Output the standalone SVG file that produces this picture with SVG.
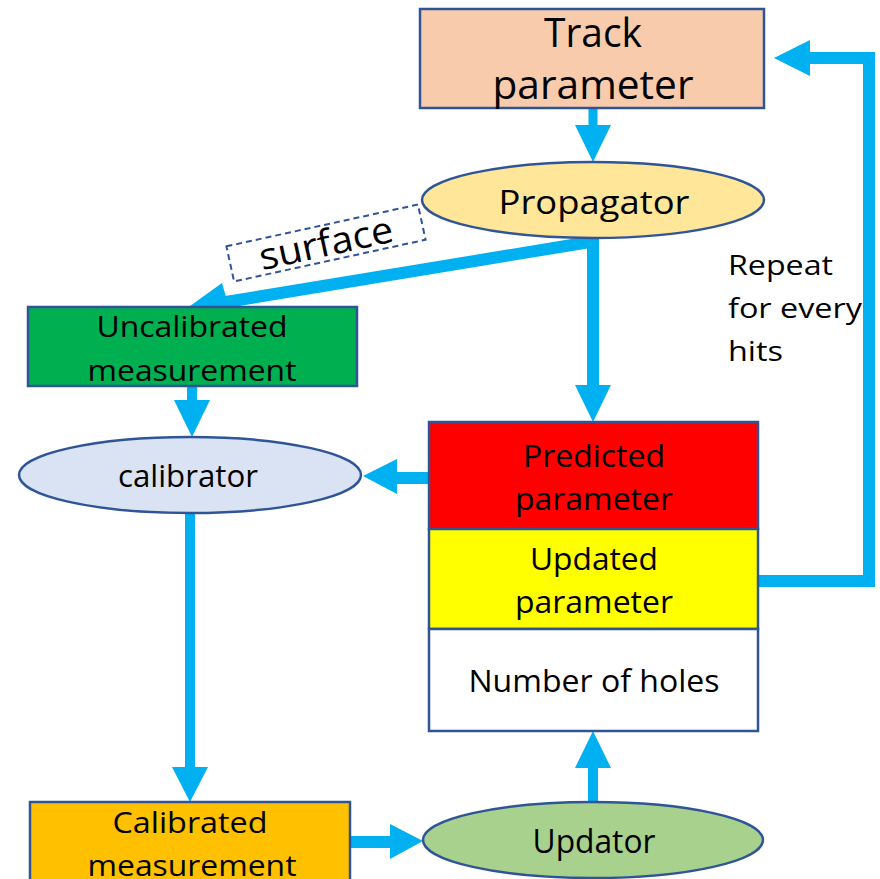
<svg xmlns="http://www.w3.org/2000/svg" width="880" height="879" viewBox="0 0 880 879">
<style>
.box{stroke:#2F5597;stroke-width:2.5}
.t{font-family:"Open Sans","Liberation Sans",sans-serif;fill:#000;text-anchor:middle}
.tl{font-family:"Open Sans","Liberation Sans",sans-serif;fill:#000}
.ln{fill:none;stroke:#00B0F0;stroke-width:12}
.ah{fill:#00B0F0}
</style>
<rect width="880" height="879" fill="#fff"/>
<g id="connectors">
  <line class="ln" x1="593" y1="108" x2="593" y2="127" style="stroke-width:9"/>
  <polygon class="ah" points="575,125 611,125 593,162"/>
  <line class="ln" x1="596" y1="241" x2="226" y2="302"/>
  <polygon class="ah" points="222,283 232,318 190,306"/>
  <line class="ln" x1="593" y1="238" x2="593" y2="388"/>
  <polygon class="ah" points="575,385 611,385 593,422"/>
  <line class="ln" x1="192" y1="386" x2="192" y2="402" style="stroke-width:10"/>
  <polygon class="ah" points="174,400 210,400 192,437"/>
  <line class="ln" x1="428" y1="478" x2="395" y2="478"/>
  <polygon class="ah" points="397,459 397,494 363,476"/>
  <line class="ln" x1="190" y1="513" x2="190" y2="770" style="stroke-width:10"/>
  <polygon class="ah" points="172,767 208,767 190,802"/>
  <line class="ln" x1="350" y1="842" x2="392" y2="842"/>
  <polygon class="ah" points="390,824 390,859 423,841"/>
  <line class="ln" x1="593" y1="802" x2="593" y2="765" style="stroke-width:10"/>
  <polygon class="ah" points="575,768 611,768 593,731"/>
  <polyline class="ln" points="757,581 869,581 869,58 808,58" style="stroke-linejoin:miter"/>
  <polygon class="ah" points="810,40 810,76 774,58"/>
</g>
<g id="track">
  <rect class="box" x="420" y="9" width="344" height="99" fill="#F8CBAD"/>
  <text class="t" x="593" y="47" font-size="41" textLength="98" lengthAdjust="spacingAndGlyphs">Track</text>
  <text class="t" x="593" y="99" font-size="41" textLength="201" lengthAdjust="spacingAndGlyphs">parameter</text>
</g>
<g id="propagator">
  <ellipse class="box" cx="593" cy="200" rx="171" ry="38" fill="#FFE699"/>
  <text class="t" x="594" y="214" font-size="32" textLength="191" lengthAdjust="spacingAndGlyphs">Propagator</text>
</g>
<g id="surface">
  <g transform="translate(326,243) rotate(-12.3)">
    <rect x="-98" y="-18" width="196" height="36" fill="#fff" stroke="#2F5597" stroke-width="2" stroke-dasharray="6,4"/>
    <text class="t" x="0" y="13" font-size="37" textLength="136" lengthAdjust="spacingAndGlyphs">surface</text>
  </g>
</g>
<g id="uncalibrated">
  <rect class="box" x="28" y="307" width="329" height="79" fill="#00B050"/>
  <text class="t" x="192" y="337" font-size="30" textLength="191" lengthAdjust="spacingAndGlyphs">Uncalibrated</text>
  <text class="t" x="192" y="381" font-size="30" textLength="209" lengthAdjust="spacingAndGlyphs">measurement</text>
</g>
<g id="calibrator">
  <ellipse class="box" cx="190" cy="475" rx="171" ry="38" fill="#DAE3F3"/>
  <text class="t" x="188" y="487" font-size="31" textLength="140" lengthAdjust="spacingAndGlyphs">calibrator</text>
</g>
<g id="predicted">
  <rect class="box" x="429" y="422" width="329" height="107" fill="#FF0000"/>
  <text class="t" x="594" y="467" font-size="31" textLength="142" lengthAdjust="spacingAndGlyphs">Predicted</text>
  <text class="t" x="594" y="510" font-size="31" textLength="158" lengthAdjust="spacingAndGlyphs">parameter</text>
</g>
<g id="updated">
  <rect class="box" x="429" y="529" width="329" height="100" fill="#FFFF00"/>
  <text class="t" x="594" y="570" font-size="31" textLength="128" lengthAdjust="spacingAndGlyphs">Updated</text>
  <text class="t" x="594" y="613" font-size="31" textLength="158" lengthAdjust="spacingAndGlyphs">parameter</text>
</g>
<g id="holes">
  <rect class="box" x="429" y="629" width="329" height="102" fill="#FFFFFF"/>
  <text class="t" x="594" y="692" font-size="31" textLength="251" lengthAdjust="spacingAndGlyphs">Number of holes</text>
</g>
<g id="repeat">
  <text class="tl" x="728" y="275" font-size="27" textLength="105" lengthAdjust="spacingAndGlyphs">Repeat</text>
  <text class="tl" x="728" y="318" font-size="27" textLength="134" lengthAdjust="spacingAndGlyphs">for every</text>
  <text class="tl" x="728" y="361" font-size="27" textLength="55" lengthAdjust="spacingAndGlyphs">hits</text>
</g>
<g id="calibrated">
  <rect class="box" x="30" y="802" width="320" height="90" fill="#FFC000"/>
  <text class="t" x="190" y="833" font-size="30" textLength="155" lengthAdjust="spacingAndGlyphs">Calibrated</text>
  <text class="t" x="192" y="876" font-size="30" textLength="209" lengthAdjust="spacingAndGlyphs">measurement</text>
</g>
<g id="updator">
  <ellipse class="box" cx="593" cy="840" rx="170" ry="38" fill="#A9D18E"/>
  <text class="t" x="594" y="853" font-size="32" textLength="123" lengthAdjust="spacingAndGlyphs">Updator</text>
</g>
</svg>
